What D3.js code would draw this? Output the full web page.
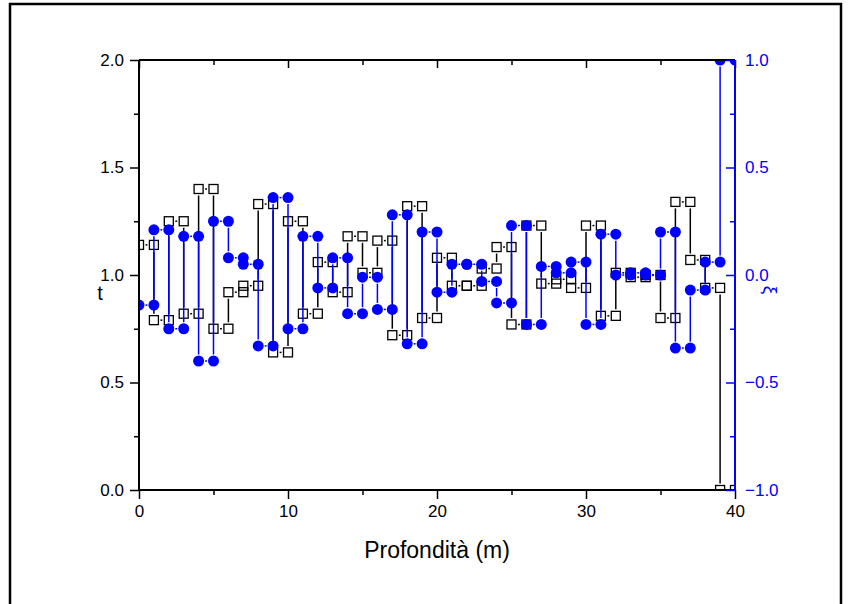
<!DOCTYPE html>
<html>
<head>
<meta charset="utf-8">
<script src="https://cdn.jsdelivr.net/npm/d3@7"></script>
<style>
	body { margin: 0; background: white; }
	svg { display: block; font-family: "Liberation Sans", Arial, sans-serif; }
</style>
</head>
<body>
<div id="chart"></div>
<script>
// layer tops (m), one value per 1 m layer from 0 to 39
let depths = d3.range(0, 40);
let tValues = [1.14, 0.79, 1.25, 0.82, 1.40, 0.75, 0.92, 0.95, 1.33, 0.64,
	1.25, 0.82, 1.06, 0.92, 1.18, 1.01, 1.16, 0.72, 1.32, 0.80,
	1.08, 0.95, 0.95, 1.03, 1.13, 0.77, 1.23, 0.96, 0.98, 0.94,
	1.23, 0.81, 1.01, 0.99, 1.00, 0.80, 1.34, 1.07, 0.94, 0.00];
let xiValues = [-0.14, 0.21, -0.25, 0.18, -0.40, 0.25, 0.08, 0.05, -0.33, 0.36,
	-0.25, 0.18, -0.06, 0.08, -0.18, -0.01, -0.16, 0.28, -0.32, 0.20,
	-0.08, 0.05, 0.05, -0.03, -0.13, 0.23, -0.23, 0.04, 0.01, 0.06,
	-0.23, 0.19, 0.00, 0.01, 0.00, 0.20, -0.34, -0.07, 0.06, 1.00];
let xTicks = [0, 10, 20, 30, 40];
let tTicks = [0, 0.5, 1.0, 1.5, 2.0];
let xiTicks = [-1.0, -0.5, 0.0, 0.5, 1.0];

let width = 848,
	height = 604,
	margin = { top: 60, right: 113, bottom: 114, left: 139 };

let svg = d3.select('#chart')
	.append('svg')
	.attr('width', width)
	.attr('height', height);

// page frame
svg.append('path')
	.attr('d', 'M10,604 L10,4 L841,4 L841,604')
	.attr('fill', 'none')
	.attr('stroke', 'black')
	.attr('stroke-width', 2.5);

let x = d3.scaleLinear().domain([0, 40]).range([margin.left, width - margin.right]);
let yT = d3.scaleLinear().domain([0, 2]).range([height - margin.bottom, margin.top]);
let yXi = d3.scaleLinear().domain([-1, 1]).range([height - margin.bottom, margin.top]);

svg.append('clipPath').attr('id', 'plot')
	.append('rect')
	.attr('x', x(0)).attr('y', yT(2))
	.attr('width', x(40) - x(0)).attr('height', yT(0) - yT(2));

// each layer becomes two points: top and bottom of the layer
function stepPoints(values, yScale) {
	let pts = [];
	depths.forEach((d, i) => {
		pts.push([x(d), yScale(values[i])]);
		pts.push([x(d + 1), yScale(values[i])]);
	});
	return pts;
}

// line segments with a gap around each symbol
function gapSegments(pts, gap) {
	let segs = [];
	for (var i = 0; i < pts.length - 1; i++) {
		let a = pts[i], b = pts[i + 1];
		let dx = b[0] - a[0], dy = b[1] - a[1];
		let len = Math.sqrt(dx * dx + dy * dy);
		if (len <= 2 * gap) continue;
		let ux = dx / len, uy = dy / len;
		segs.push([a[0] + ux * gap, a[1] + uy * gap, b[0] - ux * gap, b[1] - uy * gap]);
	}
	return segs;
}

let plot = svg.append('g').attr('clip-path', 'url(#plot)');

function drawSeries(values, yScale, color, symbol) {
	let pts = stepPoints(values, yScale);
	plot.append('g').selectAll('line')
		.data(gapSegments(pts, 6.5))
		.join('line')
		.attr('x1', d => d[0]).attr('y1', d => d[1])
		.attr('x2', d => d[2]).attr('y2', d => d[3])
		.attr('stroke', color)
		.attr('stroke-width', 1.5);

	if (symbol == 'square') {
		plot.append('g').selectAll('rect')
			.data(pts)
			.join('rect')
			.attr('x', d => d[0] - 4.5).attr('y', d => d[1] - 4.5)
			.attr('width', 9).attr('height', 9)
			.attr('fill', 'none')
			.attr('stroke', color)
			.attr('stroke-width', 1.3);
	} else {
		plot.append('g').selectAll('circle')
			.data(pts)
			.join('circle')
			.attr('cx', d => d[0]).attr('cy', d => d[1])
			.attr('r', 5.5)
			.attr('fill', color);
	}
}

drawSeries(tValues, yT, 'black', 'square');
drawSeries(xiValues, yXi, '#0000ff', 'circle');

// axes
let axBottom = svg.append('g')
	.attr('transform', 'translate(0,' + yT(0) + ')')
	.call(d3.axisBottom(x).tickValues(d3.range(0, 41, 5)).tickSize(9).tickPadding(6)
		.tickFormat(d => xTicks.includes(d) ? d : ''));
axBottom.selectAll('.tick line').attr('y2', d => d % 10 == 0 ? 9 : 5);

let axTop = svg.append('g')
	.attr('transform', 'translate(0,' + yT(2) + ')')
	.call(d3.axisBottom(x).tickValues(d3.range(0, 41, 5)).tickSize(8).tickFormat(''));
axTop.selectAll('.tick line').attr('y2', d => d % 10 == 0 ? 8 : 5);

let axLeft = svg.append('g')
	.attr('transform', 'translate(' + x(0) + ',0)')
	.call(d3.axisLeft(yT).tickValues(d3.range(0, 2.01, 0.25)).tickSize(9).tickPadding(6)
		.tickFormat(d => tTicks.some(v => Math.abs(v - d) < 1e-6) ? d3.format('.1f')(d) : ''));
axLeft.selectAll('.tick line').attr('x2', (d, i) => i % 2 == 0 ? -9 : -5);

let axRight = svg.append('g')
	.attr('transform', 'translate(' + x(40) + ',0)')
	.call(d3.axisRight(yXi).tickValues(d3.range(-1, 1.01, 0.25)).tickSize(-9).tickPadding(10)
		.tickFormat(d => xiTicks.some(v => Math.abs(v - d) < 1e-6) ? d3.format('.1f')(d) : ''));
axRight.selectAll('.tick line').attr('x2', (d, i) => i % 2 == 0 ? -9 : -5);
axRight.selectAll('.tick text').attr('x', 10);

[axBottom, axTop, axLeft, axRight].forEach(g => {
	g.attr('font-size', 17).attr('font-family', '"Liberation Sans", Arial, sans-serif');
	g.select('.domain').attr('stroke-width', 2);
	g.selectAll('.tick line').attr('stroke-width', 1.5);
	g.selectAll('.tick text').attr('fill', 'black');
});
axTop.select('.domain').attr('d', 'M' + x(0) + ',0H' + x(40));
axBottom.select('.domain').attr('d', 'M' + x(0) + ',0H' + x(40));
axLeft.select('.domain').attr('d', 'M0,' + yT(0) + 'V' + yT(2));
axRight.select('.domain').attr('d', 'M0,' + yXi(-1) + 'V' + yXi(1)).attr('stroke', '#0000ff');
axRight.selectAll('.tick line').attr('stroke', '#0000ff');
axRight.selectAll('.tick text').attr('fill', '#0000ff');

// titles
svg.append('text')
	.attr('x', (x(0) + x(40)) / 2)
	.attr('y', 558)
	.attr('text-anchor', 'middle')
	.style('font-size', '23px')
	.text('Profondità (m)');

svg.append('text')
	.attr('x', 100)
	.attr('y', 300)
	.attr('text-anchor', 'middle')
	.style('font-size', '20px')
	.text('t');

svg.append('text')
	.attr('transform', 'translate(764,' + (yT(1) + 15) + ') rotate(90)')
	.attr('text-anchor', 'middle')
	.attr('fill', '#0000ff')
	.style('font-size', '19px')
	.text('ξ');
</script>
</body>
</html>
